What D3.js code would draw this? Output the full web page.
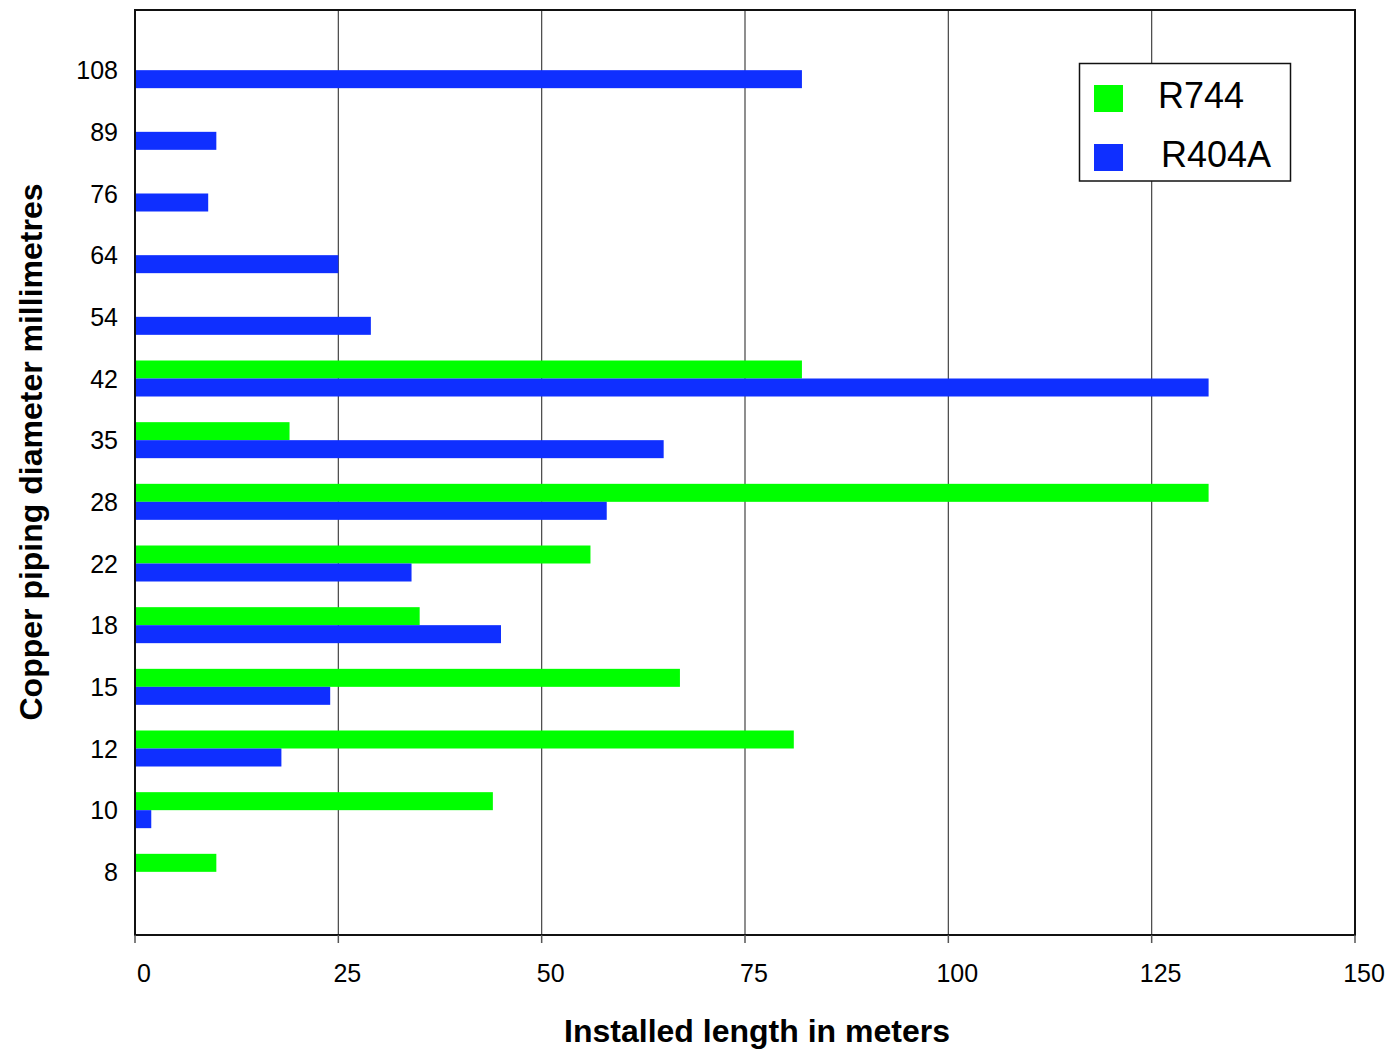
<!DOCTYPE html>
<html>
<head>
<meta charset="utf-8">
<script src="https://cdn.jsdelivr.net/npm/d3@7"></script>
<style>
  html, body { margin: 0; padding: 0; background: #fff; }
  svg { display: block; font-family: "Liberation Sans", Arial, sans-serif; }
</style>
</head>
<body>
<svg id="chart" width="1388" height="1049"></svg>
<script>
// Data
const categories = ["8", "10", "12", "15", "18", "22", "28", "35", "42", "54", "64", "76", "89", "108"];
const r744  = [10, 44, 81, 67, 35, 56, 132, 19, 82, null, null, null, null, null];
const r404a = [null, 2, 18, 24, 45, 34, 58, 65, 132, 29, 25, 9, 10, 82];
const seriesNames = ["R744", "R404A"];
const seriesColors = ["#00ff00", "#0f2fff"];
const xTicks = [0, 25, 50, 75, 100, 125, 150];

const svg = d3.select("#chart");
const plot = { left: 135, right: 1355, top: 10, bottom: 935 };

const x = d3.scaleLinear().domain([0, 150]).range([plot.left, plot.right]);
const y = d3.scalePoint()
  .domain(categories.slice().reverse())
  .range([plot.top - 1.5, plot.bottom - 1.5])
  .padding(1);
const barH = 18;

// gridlines
svg.append("g").selectAll("line")
  .data(xTicks.filter(t => t > 0 && t < 150))
  .join("line")
  .attr("x1", d => x(d)).attr("x2", d => x(d))
  .attr("y1", plot.top).attr("y2", plot.bottom)
  .attr("stroke", "#444").attr("stroke-width", 1.2);

// bars
const rows = categories.map((c, i) => ({ c, a: r744[i], b: r404a[i] }));
svg.append("g").selectAll("rect.g")
  .data(rows.filter(d => d.a != null))
  .join("rect")
  .attr("x", x(0)).attr("y", d => y(d.c) - barH)
  .attr("width", d => x(d.a) - x(0)).attr("height", barH)
  .attr("fill", seriesColors[0]);
svg.append("g").selectAll("rect.b")
  .data(rows.filter(d => d.b != null))
  .join("rect")
  .attr("x", x(0)).attr("y", d => y(d.c))
  .attr("width", d => x(d.b) - x(0)).attr("height", barH)
  .attr("fill", seriesColors[1]);

// frame
svg.append("rect")
  .attr("x", plot.left).attr("y", plot.top)
  .attr("width", plot.right - plot.left).attr("height", plot.bottom - plot.top)
  .attr("fill", "none").attr("stroke", "#111").attr("stroke-width", 2);

// x axis ticks & labels
const xAxis = svg.append("g");
xAxis.selectAll("line")
  .data(xTicks).join("line")
  .attr("x1", d => x(d)).attr("x2", d => x(d))
  .attr("y1", plot.bottom).attr("y2", plot.bottom + 8)
  .attr("stroke", "#555").attr("stroke-width", 1.5);
xAxis.selectAll("text")
  .data(xTicks).join("text")
  .attr("x", d => x(d) + 9).attr("y", 982)
  .attr("text-anchor", "middle")
  .attr("font-size", 25).attr("fill", "#000")
  .text(d => d);

// y labels
svg.append("g").selectAll("text")
  .data(categories).join("text")
  .attr("x", 118).attr("y", d => y(d))
  .attr("dy", "0.36em")
  .attr("text-anchor", "end")
  .attr("font-size", 25).attr("fill", "#000")
  .text(d => d);

// axis titles
svg.append("text")
  .attr("x", 757).attr("y", 1042)
  .attr("text-anchor", "middle")
  .attr("font-size", 32).attr("font-weight", "bold")
  .text("Installed length in meters");
svg.append("text")
  .attr("transform", "translate(42,452) rotate(-90)")
  .attr("text-anchor", "middle")
  .attr("font-size", 32).attr("font-weight", "bold")
  .text("Copper piping diameter millimetres");

// legend
const lg = svg.append("g");
lg.append("rect")
  .attr("x", 1079.5).attr("y", 63.5).attr("width", 211).attr("height", 117.5)
  .attr("fill", "#fff").attr("stroke", "#111").attr("stroke-width", 1.5);
const lgY = [85, 144];
const lgTx = [1158, 1161];
const lgTy = [108, 167];
seriesNames.forEach((n, i) => {
  lg.append("rect").attr("x", 1094).attr("y", lgY[i]).attr("width", 29).attr("height", 27)
    .attr("fill", seriesColors[i]);
  lg.append("text").attr("x", lgTx[i]).attr("y", lgTy[i])
    .attr("font-size", 36).attr("fill", "#000").text(n);
});
</script>
</body>
</html>
